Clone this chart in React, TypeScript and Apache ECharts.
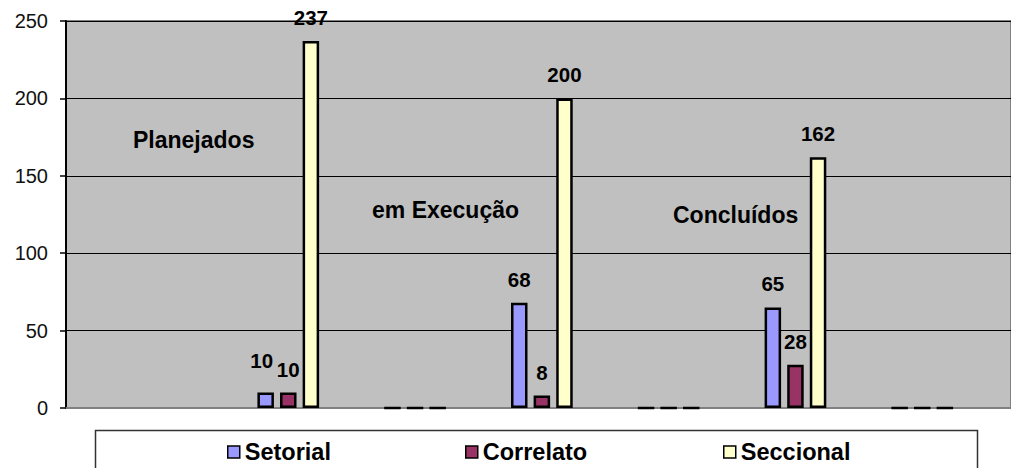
import React, { useEffect, useRef } from "react";
import * as echarts from "echarts";

const categories = ["Planejados", "", "em Execução", "", "Concluídos", ""];
const seriesNames = ["Setorial", "Correlato", "Seccional"];
const setorial = [10, 0, 68, 0, 65, 0];
const correlato = [10, 0, 8, 0, 28, 0];
const seccional = [237, 0, 200, 0, 162, 0];
const yTicks = [0, 50, 100, 150, 200, 250];
const annotations = ["Planejados", "em Execução", "Concluídos"];

const colors = ["#9999FF", "#993366", "#FFFFCC"];
const FONT = "'Liberation Sans', Arial, sans-serif";

export default function App() {
  const ref = useRef<HTMLDivElement>(null);
  useEffect(() => {
    if (!ref.current) return;
    const chart = echarts.init(ref.current, undefined, { renderer: "svg" });
    const values = [setorial, correlato, seccional];

    const series = values.map((arr, si) => ({
      name: seriesNames[si],
      type: "bar",
      barWidth: 16.5,
      barGap: "37%",
      itemStyle: { color: colors[si], borderColor: "#000", borderWidth: 2.5 },
      label: {
        show: true,
        position: "top",
        distance: 13,
        fontFamily: FONT,
        fontSize: 20.5,
        fontWeight: "bold",
        color: "#000",
        formatter: (p: any) => (p.value[1] === 0 ? "" : String(p.value[1])),
      },
      data: arr.map((v, i) => {
        const item: any = { name: categories[i], value: [i, v] };
        if (si === 0 && i === 0) item.label = { distance: 22, offset: [-4, 0] };
        return item;
      }),
    }));

    const annPos = [
      { x: 133, y: 140 },
      { x: 372, y: 210 },
      { x: 673, y: 215 },
    ];

    chart.setOption({
      animation: false,
      backgroundColor: "#fff",
      grid: {
        left: 66,
        top: 21,
        right: -3,
        height: 387,
        show: true,
        backgroundColor: "#C0C0C0",
        borderColor: "#808080",
        borderWidth: 2,
      },
      xAxis: {
        type: "value",
        min: -1.753,
        max: 5.7,
        axisLine: { show: true, onZero: false, lineStyle: { color: "#808080", width: 2 } },
        axisTick: { show: false },
        axisLabel: { show: false },
        splitLine: { show: false },
      },
      yAxis: {
        type: "value",
        min: yTicks[0],
        max: yTicks[yTicks.length - 1],
        interval: 50,
        axisLine: { show: true, onZero: false, lineStyle: { color: "#000", width: 2 } },
        axisTick: { show: true, length: 6, lineStyle: { color: "#000", width: 1.5 } },
        axisLabel: {
          fontFamily: FONT,
          fontSize: 20,
          color: "#111",
          margin: 18,
        },
        splitLine: { show: true, lineStyle: { color: "#000", width: 1.2 } },
      },
      legend: seriesNames.map((n, i) => ({
        data: [n],
        left: [227, 465, 723][i],
        top: 440,
        padding: 0,
        itemWidth: 12,
        itemHeight: 12,
        icon: "rect",
        itemStyle: { borderColor: "#000", borderWidth: 1.5 },
        textStyle: { fontFamily: FONT, fontSize: 23.5, fontWeight: "bold", color: "#000" },
      })),
      graphic: [
        {
          type: "rect",
          z: -1,
          shape: { x: 95.5, y: 430.5, width: 882, height: 60 },
          style: { fill: "none", stroke: "#333", lineWidth: 1.5 },
        },
        ...annotations.map((t, i) => ({
          type: "text",
          x: annPos[i].x,
          y: annPos[i].y,
          z: 10,
          style: {
            text: t,
            fontFamily: FONT,
            fontSize: 23,
            fontWeight: "bold",
            fill: "#000",
            verticalAlign: "middle",
            align: "left",
          },
        })),
      ],
      series,
    });
    return () => chart.dispose();
  }, []);
  return (
    <div
      ref={ref}
      style={{ position: "fixed", left: 0, top: 0, width: 1011, height: 468 }}
    />
  );
}
